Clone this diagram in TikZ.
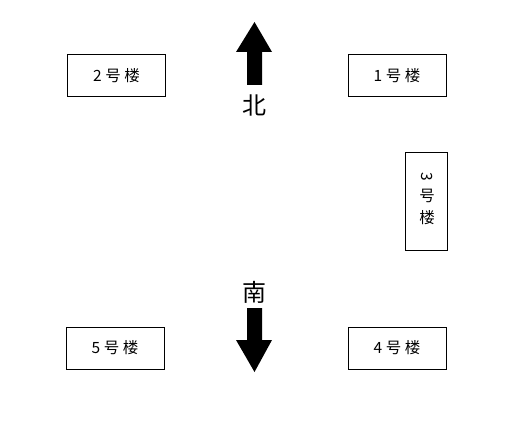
\documentclass[tikz,border=0pt]{standalone}
\usepackage{fontspec}
\newfontfamily\cjk{Noto Sans CJK SC}
\begin{document}
\begin{tikzpicture}[x=1pt,y=-1pt,
  bldg/.style={draw=black,line width=0.8pt,inner sep=0pt,font=\cjk\fontsize{15.5}{17}\selectfont},
  lbl/.style={font=\cjk\fontsize{15.5}{17}\selectfont,inner sep=0pt},
  dir/.style={font=\cjk\fontsize{24}{26}\selectfont,inner sep=0pt},
  bigarrow/.style={fill=black,draw=none}]
\useasboundingbox (0,0) rectangle (510,425);
\node[bldg,minimum width=98pt,minimum height=42pt] (b2) at (116.5,75.5) {2 号 楼};
\node[bldg,minimum width=98pt,minimum height=42pt] (b1) at (397,75.5) {1 号 楼};
\node[bldg,minimum width=42pt,minimum height=98pt] (b3) at (426,201) {};
\node[lbl,rotate=-90] (b3a) at (427,177) {3};
\node[lbl] (b3b) at (427,196) {号};
\node[lbl] (b3c) at (427,218) {楼};
\node[bldg,minimum width=98pt,minimum height=42pt] (b5) at (115,348) {5 号 楼};
\node[bldg,minimum width=98pt,minimum height=42pt] (b4) at (397,348) {4 号 楼};
% north arrow
\fill[bigarrow] (254.5,22) -- (272,52) -- (262,52) -- (262,85) -- (247,85) -- (247,52) -- (236,52) -- cycle;
\node[dir] (n) at (254.5,105) {北};
% south arrow
\node[dir] (s) at (254.5,292) {南};
\fill[bigarrow] (247,308) -- (262,308) -- (262,340) -- (272,340) -- (254.5,372) -- (236,340) -- (247,340) -- cycle;
\end{tikzpicture}
\end{document}
